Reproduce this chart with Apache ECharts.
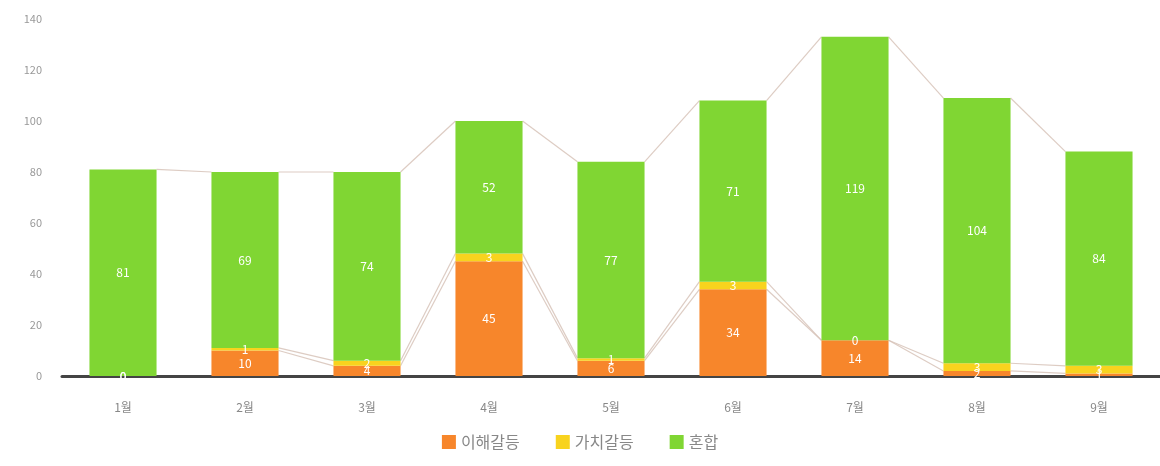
<!DOCTYPE html>
<html>
<head>
<meta charset="utf-8">
<script src="https://cdn.jsdelivr.net/npm/echarts@6/dist/echarts.min.js"></script>
<style>
html,body{margin:0;padding:0;background:#fff;}
#chart{width:1160px;height:466px;}
</style>
</head>
<body>
<div id="chart"></div>
<script>
const categories = ['1월','2월','3월','4월','5월','6월','7월','8월','9월'];
const seriesNames = ['이해갈등','가치갈등','혼합'];
const interestConflict = [0, 10, 4, 45, 6, 34, 14, 2, 1];
const valueConflict    = [0, 1, 2, 3, 1, 3, 0, 3, 3];
const mixed            = [81, 69, 74, 52, 77, 71, 119, 104, 84];
const yTicks = { min: 0, max: 140, interval: 20 };

const colors = ['#f7862b', '#f8d31e', '#80d633'];
const lineColor = 'rgba(215,195,185,0.85)';
const barRatio = 0.55;

const stacksData = [interestConflict, valueConflict, mixed];
const cumulative = [];
let running = categories.map(() => 0);
stacksData.forEach(arr => {
  running = running.map((v, i) => v + arr[i]);
  cumulative.push(running.slice());
});

function connectorData(cum) {
  const out = [];
  for (let i = 0; i < cum.length - 1; i++) {
    if (cum[i] === 0) continue;
    out.push([i, cum[i], cum[i + 1]]);
  }
  return out;
}

function renderConnector(params, api) {
  const i = api.value(0);
  const band = api.size([1, 0])[0];
  const half = band * barRatio / 2;
  const p1 = api.coord([i, api.value(1)]);
  const p2 = api.coord([i + 1, api.value(2)]);
  return {
    type: 'line',
    shape: { x1: p1[0] + half, y1: p1[1], x2: p2[0] - half, y2: p2[1] },
    style: { stroke: lineColor, lineWidth: 1.2 }
  };
}

const barSeries = stacksData.map((arr, k) => ({
  name: seriesNames[k],
  type: 'bar',
  stack: 'total',
  barWidth: (barRatio * 100) + '%',
  data: arr,
  itemStyle: { color: colors[k] },
  label: {
    show: true,
    position: 'inside',
    color: '#fff',
    fontSize: 12
  },
  z: 3
}));

const lineSeries = cumulative.map((cum, k) => ({
  type: 'custom',
  name: 'conn' + k,
  renderItem: renderConnector,
  data: connectorData(cum),
  encode: { x: 0, y: [1, 2] },
  silent: true,
  z: 1
}));

const chart = echarts.init(document.getElementById('chart'));
chart.setOption({
  animation: false,
  textStyle: { fontFamily: '"Noto Sans CJK KR", "Noto Sans", sans-serif' },
  grid: { left: 62, right: 0, top: 19, bottom: 90 },
  legend: {
    data: seriesNames,
    bottom: 11,
    left: 'center',
    itemWidth: 14,
    itemHeight: 14,
    itemGap: 36,
    icon: 'rect',
    textStyle: { color: '#888', fontSize: 16 }
  },
  xAxis: {
    type: 'category',
    data: categories,
    axisLine: { lineStyle: { color: '#444', width: 3 } },
    axisTick: { show: false },
    axisLabel: { color: '#888', fontSize: 12, margin: 25 }
  },
  yAxis: {
    type: 'value',
    min: yTicks.min,
    max: yTicks.max,
    interval: yTicks.interval,
    axisLine: { show: false },
    axisTick: { show: false },
    splitLine: { show: false },
    axisLabel: { color: '#999', fontSize: 11, margin: 20 }
  },
  series: [...lineSeries, ...barSeries]
});
</script>
</body>
</html>
